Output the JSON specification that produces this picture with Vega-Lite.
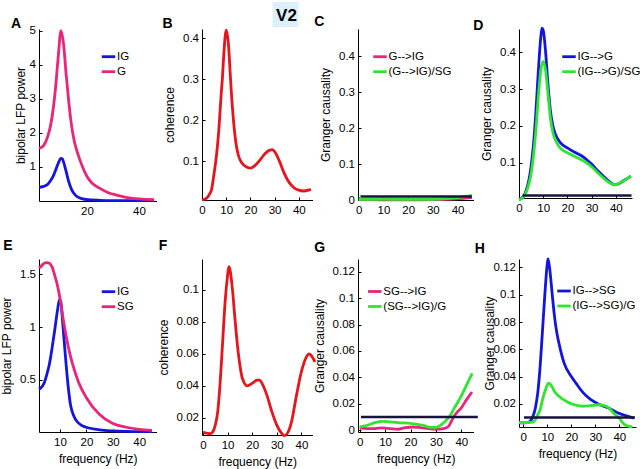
{
"$schema": "https://vega.github.io/schema/vega-lite/v6.json",
"autosize": {"type": "none"},
"padding": {"left": 39, "top": 29, "right": 601, "bottom": 440},
"background": "white",
"config": {
  "font": "Liberation Sans, Arial, sans-serif",
  "view": {"stroke": null},
  "axis": {"grid": false, "domainColor": "#000", "tickColor": "#000", "labelColor": "#000", "titleColor": "#000", "labelFontSize": 11.5, "titleFontSize": 12, "titleFontWeight": "normal", "tickSize": -3, "labelPadding": 7, "titlePadding": 6, "domainWidth": 1, "labelFlush": false, "labelOverlap": false},
  "axisY": {"labelPadding": 6.5},
  "legend": {"symbolType": "stroke", "symbolStrokeWidth": 3, "symbolSize": 182, "labelFontSize": 11.5, "labelColor": "#000", "labelOffset": 0, "rowPadding": -3, "padding": 0},
  "text": {"fontSize": 14, "fontWeight": "bold", "align": "left", "baseline": "alphabetic", "color": "#000"},
  "line": {"strokeWidth": 2.8, "interpolate": "monotone"}
},
"datasets": {
  "A": [
    {"freq":1.6,"value":0.4,"series":"IG"},{"freq":3,"value":0.42,"series":"IG"},{"freq":4,"value":0.45,"series":"IG"},{"freq":5,"value":0.5,"series":"IG"},{"freq":6,"value":0.6,"series":"IG"},{"freq":7,"value":0.73,"series":"IG"},{"freq":8,"value":0.92,"series":"IG"},{"freq":9,"value":1.12,"series":"IG"},{"freq":10,"value":1.25,"series":"IG"},{"freq":10.5,"value":1.24,"series":"IG"},{"freq":11,"value":1.14,"series":"IG"},{"freq":12,"value":0.86,"series":"IG"},{"freq":13,"value":0.56,"series":"IG"},{"freq":14,"value":0.35,"series":"IG"},{"freq":15,"value":0.22,"series":"IG"},{"freq":16,"value":0.14,"series":"IG"},{"freq":18,"value":0.07,"series":"IG"},{"freq":20,"value":0.04,"series":"IG"},{"freq":25,"value":0.02,"series":"IG"},{"freq":30,"value":0.013,"series":"IG"},{"freq":40,"value":0.01,"series":"IG"},{"freq":45.8,"value":0.01,"series":"IG"},
    {"freq":1.6,"value":1.55,"series":"G"},{"freq":3,"value":1.6,"series":"G"},{"freq":4,"value":1.72,"series":"G"},{"freq":5,"value":1.92,"series":"G"},{"freq":6,"value":2.22,"series":"G"},{"freq":7,"value":2.7,"series":"G"},{"freq":8,"value":3.4,"series":"G"},{"freq":9,"value":4.3,"series":"G"},{"freq":10,"value":5.0,"series":"G"},{"freq":11,"value":4.6,"series":"G"},{"freq":12,"value":3.7,"series":"G"},{"freq":13,"value":2.9,"series":"G"},{"freq":14,"value":2.25,"series":"G"},{"freq":15,"value":1.8,"series":"G"},{"freq":16,"value":1.5,"series":"G"},{"freq":17.3,"value":1.2,"series":"G"},{"freq":20,"value":0.72,"series":"G"},{"freq":22,"value":0.52,"series":"G"},{"freq":25,"value":0.37,"series":"G"},{"freq":28,"value":0.25,"series":"G"},{"freq":31,"value":0.18,"series":"G"},{"freq":35,"value":0.11,"series":"G"},{"freq":40,"value":0.06,"series":"G"},{"freq":45.8,"value":0.04,"series":"G"}
  ],
  "B": [
    {"freq":0,"value":0.005},{"freq":2,"value":0.01},{"freq":3,"value":0.018},{"freq":4,"value":0.032},{"freq":5,"value":0.07},{"freq":5.7,"value":0.1},{"freq":6,"value":0.115},{"freq":7,"value":0.18},{"freq":8,"value":0.27},{"freq":8.4,"value":0.3},{"freq":9,"value":0.36},{"freq":10,"value":0.42},{"freq":11,"value":0.38},{"freq":11.6,"value":0.32},{"freq":12,"value":0.28},{"freq":13,"value":0.2},{"freq":14,"value":0.145},{"freq":15,"value":0.115},{"freq":16,"value":0.1},{"freq":17,"value":0.092},{"freq":18,"value":0.087},{"freq":20,"value":0.083},{"freq":22,"value":0.09},{"freq":24,"value":0.103},{"freq":26,"value":0.118},{"freq":28,"value":0.127},{"freq":29,"value":0.128},{"freq":30,"value":0.123},{"freq":32,"value":0.1},{"freq":34,"value":0.07},{"freq":36,"value":0.048},{"freq":38,"value":0.035},{"freq":40,"value":0.029},{"freq":42,"value":0.027},{"freq":44,"value":0.029},{"freq":45,"value":0.031}
  ],
  "C": [
    {"freq":0,"value":0.001,"series":"G-->IG"},{"freq":5,"value":0.0008,"series":"G-->IG"},{"freq":10,"value":0.0005,"series":"G-->IG"},{"freq":15,"value":0.0005,"series":"G-->IG"},{"freq":20,"value":0.0005,"series":"G-->IG"},{"freq":25,"value":0.0007,"series":"G-->IG"},{"freq":30,"value":0.001,"series":"G-->IG"},{"freq":35,"value":0.0018,"series":"G-->IG"},{"freq":38,"value":0.0028,"series":"G-->IG"},{"freq":41,"value":0.004,"series":"G-->IG"},{"freq":43,"value":0.005,"series":"G-->IG"},{"freq":45.8,"value":0.0065,"series":"G-->IG"},
    {"freq":0,"value":0.002,"series":"(G-->IG)/SG"},{"freq":5,"value":0.002,"series":"(G-->IG)/SG"},{"freq":10,"value":0.0022,"series":"(G-->IG)/SG"},{"freq":15,"value":0.002,"series":"(G-->IG)/SG"},{"freq":20,"value":0.0018,"series":"(G-->IG)/SG"},{"freq":25,"value":0.0018,"series":"(G-->IG)/SG"},{"freq":30,"value":0.002,"series":"(G-->IG)/SG"},{"freq":34,"value":0.003,"series":"(G-->IG)/SG"},{"freq":37,"value":0.0045,"series":"(G-->IG)/SG"},{"freq":40,"value":0.0065,"series":"(G-->IG)/SG"},{"freq":43,"value":0.0095,"series":"(G-->IG)/SG"},{"freq":45.8,"value":0.013,"series":"(G-->IG)/SG"}
  ],
  "Cthr": [{"freq":0.7,"value":0.01},{"freq":45.8,"value":0.01}],
  "D": [
    {"freq":0,"value":0,"series":"IG-->G"},{"freq":1,"value":0.003,"series":"IG-->G"},{"freq":2,"value":0.01,"series":"IG-->G"},{"freq":3,"value":0.025,"series":"IG-->G"},{"freq":4,"value":0.05,"series":"IG-->G"},{"freq":5,"value":0.09,"series":"IG-->G"},{"freq":6,"value":0.15,"series":"IG-->G"},{"freq":7,"value":0.24,"series":"IG-->G"},{"freq":8,"value":0.35,"series":"IG-->G"},{"freq":9,"value":0.44,"series":"IG-->G"},{"freq":9.5,"value":0.465,"series":"IG-->G"},{"freq":10,"value":0.46,"series":"IG-->G"},{"freq":11,"value":0.4,"series":"IG-->G"},{"freq":12,"value":0.31,"series":"IG-->G"},{"freq":13,"value":0.24,"series":"IG-->G"},{"freq":14,"value":0.2,"series":"IG-->G"},{"freq":15,"value":0.178,"series":"IG-->G"},{"freq":17,"value":0.155,"series":"IG-->G"},{"freq":20,"value":0.14,"series":"IG-->G"},{"freq":23,"value":0.128,"series":"IG-->G"},{"freq":26,"value":0.118,"series":"IG-->G"},{"freq":28,"value":0.108,"series":"IG-->G"},{"freq":30,"value":0.096,"series":"IG-->G"},{"freq":33,"value":0.075,"series":"IG-->G"},{"freq":36,"value":0.056,"series":"IG-->G"},{"freq":38,"value":0.045,"series":"IG-->G"},{"freq":39.5,"value":0.04,"series":"IG-->G"},{"freq":41,"value":0.042,"series":"IG-->G"},{"freq":43,"value":0.05,"series":"IG-->G"},{"freq":45,"value":0.058,"series":"IG-->G"},{"freq":46.2,"value":0.063,"series":"IG-->G"},
    {"freq":0,"value":0,"series":"(IG-->G)/SG"},{"freq":1,"value":0.002,"series":"(IG-->G)/SG"},{"freq":2,"value":0.008,"series":"(IG-->G)/SG"},{"freq":3,"value":0.02,"series":"(IG-->G)/SG"},{"freq":4,"value":0.04,"series":"(IG-->G)/SG"},{"freq":5,"value":0.07,"series":"(IG-->G)/SG"},{"freq":6,"value":0.12,"series":"(IG-->G)/SG"},{"freq":7,"value":0.19,"series":"(IG-->G)/SG"},{"freq":8,"value":0.28,"series":"(IG-->G)/SG"},{"freq":9,"value":0.35,"series":"(IG-->G)/SG"},{"freq":10,"value":0.375,"series":"(IG-->G)/SG"},{"freq":11,"value":0.35,"series":"(IG-->G)/SG"},{"freq":12,"value":0.285,"series":"(IG-->G)/SG"},{"freq":13,"value":0.22,"series":"(IG-->G)/SG"},{"freq":14,"value":0.182,"series":"(IG-->G)/SG"},{"freq":15,"value":0.162,"series":"(IG-->G)/SG"},{"freq":17,"value":0.14,"series":"(IG-->G)/SG"},{"freq":20,"value":0.127,"series":"(IG-->G)/SG"},{"freq":23,"value":0.117,"series":"(IG-->G)/SG"},{"freq":26,"value":0.107,"series":"(IG-->G)/SG"},{"freq":28,"value":0.099,"series":"(IG-->G)/SG"},{"freq":30,"value":0.089,"series":"(IG-->G)/SG"},{"freq":33,"value":0.07,"series":"(IG-->G)/SG"},{"freq":36,"value":0.052,"series":"(IG-->G)/SG"},{"freq":38,"value":0.043,"series":"(IG-->G)/SG"},{"freq":39.5,"value":0.04,"series":"(IG-->G)/SG"},{"freq":41,"value":0.043,"series":"(IG-->G)/SG"},{"freq":43,"value":0.05,"series":"(IG-->G)/SG"},{"freq":45,"value":0.058,"series":"(IG-->G)/SG"},{"freq":46.2,"value":0.064,"series":"(IG-->G)/SG"}
  ],
  "Dthr": [{"freq":1.5,"value":0.011},{"freq":46.5,"value":0.011}],
  "E": [
    {"freq":2.05,"value":0.41,"series":"IG"},{"freq":3,"value":0.43,"series":"IG"},{"freq":4,"value":0.47,"series":"IG"},{"freq":5,"value":0.55,"series":"IG"},{"freq":6,"value":0.65,"series":"IG"},{"freq":7,"value":0.8,"series":"IG"},{"freq":8,"value":0.97,"series":"IG"},{"freq":9,"value":1.15,"series":"IG"},{"freq":9.8,"value":1.26,"series":"IG"},{"freq":10.3,"value":1.24,"series":"IG"},{"freq":11,"value":1.05,"series":"IG"},{"freq":12,"value":0.74,"series":"IG"},{"freq":13,"value":0.46,"series":"IG"},{"freq":14,"value":0.26,"series":"IG"},{"freq":15,"value":0.17,"series":"IG"},{"freq":16,"value":0.12,"series":"IG"},{"freq":18,"value":0.07,"series":"IG"},{"freq":20,"value":0.05,"series":"IG"},{"freq":25,"value":0.025,"series":"IG"},{"freq":30,"value":0.015,"series":"IG"},{"freq":35,"value":0.01,"series":"IG"},{"freq":40,"value":0.008,"series":"IG"},{"freq":44.85,"value":0.008,"series":"IG"},
    {"freq":2.05,"value":1.56,"series":"SG"},{"freq":3,"value":1.58,"series":"SG"},{"freq":4,"value":1.605,"series":"SG"},{"freq":5,"value":1.61,"series":"SG"},{"freq":6,"value":1.605,"series":"SG"},{"freq":7,"value":1.57,"series":"SG"},{"freq":8,"value":1.49,"series":"SG"},{"freq":9,"value":1.4,"series":"SG"},{"freq":10,"value":1.27,"series":"SG"},{"freq":11,"value":1.11,"series":"SG"},{"freq":12,"value":0.96,"series":"SG"},{"freq":13,"value":0.83,"series":"SG"},{"freq":14,"value":0.72,"series":"SG"},{"freq":15,"value":0.63,"series":"SG"},{"freq":17,"value":0.48,"series":"SG"},{"freq":20,"value":0.33,"series":"SG"},{"freq":25,"value":0.17,"series":"SG"},{"freq":30,"value":0.085,"series":"SG"},{"freq":35,"value":0.05,"series":"SG"},{"freq":40,"value":0.03,"series":"SG"},{"freq":44.85,"value":0.02,"series":"SG"}
  ],
  "F": [
    {"freq":0,"value":0.0108},{"freq":1,"value":0.0105},{"freq":2,"value":0.0102},{"freq":3,"value":0.01},{"freq":4,"value":0.0112},{"freq":5,"value":0.0154},{"freq":6,"value":0.0238},{"freq":7,"value":0.0426},{"freq":8,"value":0.0676},{"freq":9,"value":0.0927},{"freq":10,"value":0.109},{"freq":10.5,"value":0.1146},{"freq":11,"value":0.1125},{"freq":12,"value":0.1},{"freq":13,"value":0.082},{"freq":14,"value":0.0655},{"freq":15,"value":0.053},{"freq":16,"value":0.0447},{"freq":18,"value":0.04},{"freq":20,"value":0.0415},{"freq":22,"value":0.0436},{"freq":23,"value":0.0436},{"freq":24,"value":0.0415},{"freq":26,"value":0.034},{"freq":28,"value":0.0238},{"freq":30,"value":0.0154},{"freq":32,"value":0.0102},{"freq":33,"value":0.0088},{"freq":34,"value":0.0096},{"freq":36,"value":0.0175},{"freq":38,"value":0.034},{"freq":40,"value":0.0488},{"freq":42,"value":0.058},{"freq":43,"value":0.06},{"freq":44,"value":0.059},{"freq":45.5,"value":0.055}
  ],
  "G": [
    {"freq":0,"value":0.0018,"series":"SG-->IG"},{"freq":3,"value":0.0013,"series":"SG-->IG"},{"freq":6,"value":0.0013,"series":"SG-->IG"},{"freq":9,"value":0.0018,"series":"SG-->IG"},{"freq":12,"value":0.0013,"series":"SG-->IG"},{"freq":15,"value":0.0008,"series":"SG-->IG"},{"freq":18,"value":0.002,"series":"SG-->IG"},{"freq":21,"value":0.0025,"series":"SG-->IG"},{"freq":24,"value":0.002,"series":"SG-->IG"},{"freq":27,"value":0.0013,"series":"SG-->IG"},{"freq":30,"value":0.0008,"series":"SG-->IG"},{"freq":33,"value":0.0013,"series":"SG-->IG"},{"freq":35,"value":0.003,"series":"SG-->IG"},{"freq":36,"value":0.0065,"series":"SG-->IG"},{"freq":37.1,"value":0.0105,"series":"SG-->IG"},{"freq":38.5,"value":0.014,"series":"SG-->IG"},{"freq":40,"value":0.017,"series":"SG-->IG"},{"freq":42,"value":0.023,"series":"SG-->IG"},{"freq":44.2,"value":0.029,"series":"SG-->IG"},
    {"freq":0,"value":0.0025,"series":"(SG-->IG)/G"},{"freq":3,"value":0.0038,"series":"(SG-->IG)/G"},{"freq":6,"value":0.0058,"series":"(SG-->IG)/G"},{"freq":9,"value":0.0068,"series":"(SG-->IG)/G"},{"freq":12,"value":0.0063,"series":"(SG-->IG)/G"},{"freq":15,"value":0.0058,"series":"(SG-->IG)/G"},{"freq":20,"value":0.0053,"series":"(SG-->IG)/G"},{"freq":25,"value":0.0038,"series":"(SG-->IG)/G"},{"freq":28,"value":0.0022,"series":"(SG-->IG)/G"},{"freq":30,"value":0.0022,"series":"(SG-->IG)/G"},{"freq":32,"value":0.004,"series":"(SG-->IG)/G"},{"freq":34,"value":0.0075,"series":"(SG-->IG)/G"},{"freq":35.4,"value":0.0105,"series":"(SG-->IG)/G"},{"freq":37,"value":0.016,"series":"(SG-->IG)/G"},{"freq":40,"value":0.026,"series":"(SG-->IG)/G"},{"freq":42,"value":0.034,"series":"(SG-->IG)/G"},{"freq":44.3,"value":0.043,"series":"(SG-->IG)/G"}
  ],
  "Gthr": [{"freq":0.5,"value":0.01},{"freq":46.5,"value":0.01}],
  "H": [
    {"freq":-1.8,"value":0.006,"series":"IG-->SG"},{"freq":2,"value":0.0063,"series":"IG-->SG"},{"freq":3,"value":0.0075,"series":"IG-->SG"},{"freq":4,"value":0.0107,"series":"IG-->SG"},{"freq":5,"value":0.0168,"series":"IG-->SG"},{"freq":6,"value":0.0278,"series":"IG-->SG"},{"freq":7,"value":0.0473,"series":"IG-->SG"},{"freq":8,"value":0.074,"series":"IG-->SG"},{"freq":9,"value":0.101,"series":"IG-->SG"},{"freq":10,"value":0.123,"series":"IG-->SG"},{"freq":10.3,"value":0.1262,"series":"IG-->SG"},{"freq":11,"value":0.119,"series":"IG-->SG"},{"freq":12,"value":0.101,"series":"IG-->SG"},{"freq":13,"value":0.084,"series":"IG-->SG"},{"freq":14,"value":0.0717,"series":"IG-->SG"},{"freq":15,"value":0.0632,"series":"IG-->SG"},{"freq":17,"value":0.0498,"series":"IG-->SG"},{"freq":20,"value":0.04,"series":"IG-->SG"},{"freq":22,"value":0.035,"series":"IG-->SG"},{"freq":25,"value":0.028,"series":"IG-->SG"},{"freq":28,"value":0.0232,"series":"IG-->SG"},{"freq":31.5,"value":0.0197,"series":"IG-->SG"},{"freq":35.7,"value":0.0168,"series":"IG-->SG"},{"freq":39.9,"value":0.013,"series":"IG-->SG"},{"freq":44,"value":0.0107,"series":"IG-->SG"},{"freq":46.1,"value":0.0095,"series":"IG-->SG"},
    {"freq":-1.8,"value":0.0063,"series":"(IG-->SG)/G"},{"freq":2,"value":0.0063,"series":"(IG-->SG)/G"},{"freq":4,"value":0.0066,"series":"(IG-->SG)/G"},{"freq":5,"value":0.0083,"series":"(IG-->SG)/G"},{"freq":6,"value":0.012,"series":"(IG-->SG)/G"},{"freq":7,"value":0.0156,"series":"(IG-->SG)/G"},{"freq":8,"value":0.023,"series":"(IG-->SG)/G"},{"freq":9,"value":0.029,"series":"(IG-->SG)/G"},{"freq":10,"value":0.0339,"series":"(IG-->SG)/G"},{"freq":10.6,"value":0.0351,"series":"(IG-->SG)/G"},{"freq":11.5,"value":0.0339,"series":"(IG-->SG)/G"},{"freq":13,"value":0.029,"series":"(IG-->SG)/G"},{"freq":15,"value":0.0254,"series":"(IG-->SG)/G"},{"freq":18,"value":0.0217,"series":"(IG-->SG)/G"},{"freq":21,"value":0.0195,"series":"(IG-->SG)/G"},{"freq":25,"value":0.0182,"series":"(IG-->SG)/G"},{"freq":28,"value":0.0187,"series":"(IG-->SG)/G"},{"freq":31.5,"value":0.0193,"series":"(IG-->SG)/G"},{"freq":33,"value":0.019,"series":"(IG-->SG)/G"},{"freq":35.7,"value":0.0169,"series":"(IG-->SG)/G"},{"freq":38,"value":0.0125,"series":"(IG-->SG)/G"},{"freq":40,"value":0.0095,"series":"(IG-->SG)/G"},{"freq":42,"value":0.005,"series":"(IG-->SG)/G"},{"freq":44,"value":0.0035,"series":"(IG-->SG)/G"},{"freq":45.4,"value":0.003,"series":"(IG-->SG)/G"}
  ],
  "Hthr": [{"freq":0.3,"value":0.01},{"freq":46.5,"value":0.01}]
},
"columns": 4,
"align": "none",
"bounds": "flush",
"spacing": {"row": 58, "column": 45},
"resolve": {"scale": {"x": "independent", "y": "independent", "color": "independent"}, "axis": {"x": "independent", "y": "independent"}, "legend": {"color": "independent"}},
"concat": [
  {
    "width": 117.5, "height": 172,
    "layer": [
      {
        "data": {"name": "A"},
        "mark": {"type": "line"},
        "encoding": {
          "x": {"field": "freq", "type": "quantitative", "scale": {"domain": [1.54, 46.73], "nice": false, "zero": false}, "axis": {"values": [20, 40], "title": null, "labelOverlap": false}},
          "y": {"field": "value", "type": "quantitative", "scale": {"domain": [0, 5.05], "nice": false, "zero": false}, "axis": {"values": [1, 2, 3, 4, 5], "format": "~g", "title": "bipolar LFP power", "titlePadding": 2, "labelOverlap": false}},
          "color": {"field": "series", "type": "nominal", "scale": {"domain": ["IG", "G"], "range": ["#1414e0", "#ea2579"]}, "legend": {"orient": "none", "legendX": 61, "legendY": 19.2, "title": null}}
        }
      },
      {
        "data": {"values": [{}]},
        "mark": {"type": "text", "text": "A"},
        "encoding": {
          "x": {"datum": -9.23, "type": "quantitative", "scale": {"domain": [1.54, 46.73], "nice": false, "zero": false}, "axis": {"values": [20, 40], "title": null, "labelOverlap": false}},
          "y": {"datum": 5.079, "type": "quantitative", "scale": {"domain": [0, 5.05], "nice": false, "zero": false}, "axis": {"values": [1, 2, 3, 4, 5], "format": "~g", "title": "bipolar LFP power", "titlePadding": 2, "labelOverlap": false}}
        }
      }
    ]
  },
  {
    "width": 110.5, "height": 171,
    "layer": [
      {
        "data": {"name": "B"},
        "mark": {"type": "line", "color": "#e8141c"},
        "encoding": {
          "x": {"field": "freq", "type": "quantitative", "scale": {"domain": [0, 45.66], "nice": false, "zero": false}, "axis": {"values": [0, 10, 20, 30, 40], "title": null, "labelOverlap": false}},
          "y": {"field": "value", "type": "quantitative", "scale": {"domain": [0.005, 0.423], "nice": false, "zero": false}, "axis": {"values": [0.1, 0.2, 0.3, 0.4], "format": "~g", "title": "coherence", "labelOverlap": false}}
        }
      },
      {
        "data": {"values": [{}]},
        "mark": {"type": "rect", "color": "#ddeffb"},
        "encoding": {
          "x": {"datum": 29.13, "type": "quantitative", "scale": {"domain": [0, 45.66], "nice": false, "zero": false}, "axis": {"values": [0, 10, 20, 30, 40], "title": null, "labelOverlap": false}}, "x2": {"datum": 39.88},
          "y": {"datum": 0.428, "type": "quantitative", "scale": {"domain": [0.005, 0.423], "nice": false, "zero": false}, "axis": {"values": [0.1, 0.2, 0.3, 0.4], "format": "~g", "title": "coherence", "labelOverlap": false}}, "y2": {"datum": 0.489}
        }
      },
      {
        "data": {"values": [{}]},
        "mark": {"type": "text", "text": "V2", "fontSize": 17, "align": "center", "baseline": "middle"},
        "encoding": {
          "x": {"datum": 34.92, "type": "quantitative", "scale": {"domain": [0, 45.66], "nice": false, "zero": false}, "axis": {"values": [0, 10, 20, 30, 40], "title": null, "labelOverlap": false}},
          "y": {"datum": 0.456, "type": "quantitative", "scale": {"domain": [0.005, 0.423], "nice": false, "zero": false}, "axis": {"values": [0.1, 0.2, 0.3, 0.4], "format": "~g", "title": "coherence", "labelOverlap": false}}
        }
      },
      {
        "data": {"values": [{}]},
        "mark": {"type": "text", "text": "B"},
        "encoding": {
          "x": {"datum": -16.32, "type": "quantitative", "scale": {"domain": [0, 45.66], "nice": false, "zero": false}, "axis": {"values": [0, 10, 20, 30, 40], "title": null, "labelOverlap": false}},
          "y": {"datum": 0.4247, "type": "quantitative", "scale": {"domain": [0.005, 0.423], "nice": false, "zero": false}, "axis": {"values": [0.1, 0.2, 0.3, 0.4], "format": "~g", "title": "coherence", "labelOverlap": false}}
        }
      }
    ]
  },
  {
    "width": 115.5, "height": 171,
    "layer": [
      {
        "data": {"name": "C"},
        "mark": {"type": "line"},
        "encoding": {
          "x": {"field": "freq", "type": "quantitative", "scale": {"domain": [-0.3, 46.46], "nice": false, "zero": false}, "axis": {"values": [0, 10, 20, 30, 40], "title": null, "labelOverlap": false}},
          "y": {"field": "value", "type": "quantitative", "scale": {"domain": [0, 0.475], "nice": false, "zero": false}, "axis": {"values": [0, 0.1, 0.2, 0.3, 0.4], "format": "~g", "title": "Granger causality", "labelOverlap": false}},
          "color": {"field": "series", "type": "nominal", "scale": {"domain": ["G-->IG", "(G-->IG)/SG"], "range": ["#ea2579", "#2ee62e"]}, "legend": {"orient": "none", "legendX": 13.5, "legendY": 19.2, "title": null}}
        }
      },
      {
        "data": {"name": "Cthr"},
        "mark": {"type": "line", "color": "#14143c", "strokeWidth": 2.5, "interpolate": "linear"},
        "encoding": {
          "x": {"field": "freq", "type": "quantitative", "scale": {"domain": [-0.3, 46.46], "nice": false, "zero": false}, "axis": {"values": [0, 10, 20, 30, 40], "title": null, "labelOverlap": false}},
          "y": {"field": "value", "type": "quantitative", "scale": {"domain": [0, 0.475], "nice": false, "zero": false}, "axis": {"values": [0, 0.1, 0.2, 0.3, 0.4], "format": "~g", "title": "Granger causality", "labelOverlap": false}}
        }
      },
      {
        "data": {"values": [{}]},
        "mark": {"type": "text", "text": "C"},
        "encoding": {
          "x": {"datum": -17.99, "type": "quantitative", "scale": {"domain": [-0.3, 46.46], "nice": false, "zero": false}, "axis": {"values": [0, 10, 20, 30, 40], "title": null, "labelOverlap": false}},
          "y": {"datum": 0.4833, "type": "quantitative", "scale": {"domain": [0, 0.475], "nice": false, "zero": false}, "axis": {"values": [0, 0.1, 0.2, 0.3, 0.4], "format": "~g", "title": "Granger causality", "labelOverlap": false}}
        }
      }
    ]
  },
  {
    "width": 113, "height": 169,
    "layer": [
      {
        "data": {"name": "D"},
        "mark": {"type": "line"},
        "encoding": {
          "x": {"field": "freq", "type": "quantitative", "scale": {"domain": [0, 46.7], "nice": false, "zero": false}, "axis": {"values": [0, 10, 20, 30, 40], "title": null, "labelOverlap": false}},
          "y": {"field": "value", "type": "quantitative", "scale": {"domain": [0.004, 0.463], "nice": false, "zero": false}, "axis": {"values": [0.1, 0.2, 0.3, 0.4], "format": "~g", "title": "Granger causality", "labelOverlap": false}},
          "color": {"field": "series", "type": "nominal", "scale": {"domain": ["IG-->G", "(IG-->G)/SG"], "range": ["#1414e0", "#2ee62e"]}, "legend": {"orient": "none", "legendX": 41.5, "legendY": 19.2, "title": null}}
        }
      },
      {
        "data": {"name": "Dthr"},
        "mark": {"type": "line", "color": "#14143c", "strokeWidth": 2.5, "interpolate": "linear"},
        "encoding": {
          "x": {"field": "freq", "type": "quantitative", "scale": {"domain": [0, 46.7], "nice": false, "zero": false}, "axis": {"values": [0, 10, 20, 30, 40], "title": null, "labelOverlap": false}},
          "y": {"field": "value", "type": "quantitative", "scale": {"domain": [0.004, 0.463], "nice": false, "zero": false}, "axis": {"values": [0.1, 0.2, 0.3, 0.4], "format": "~g", "title": "Granger causality", "labelOverlap": false}}
        }
      },
      {
        "data": {"values": [{}]},
        "mark": {"type": "text", "text": "D"},
        "encoding": {
          "x": {"datum": -18.93, "type": "quantitative", "scale": {"domain": [0, 46.7], "nice": false, "zero": false}, "axis": {"values": [0, 10, 20, 30, 40], "title": null, "labelOverlap": false}},
          "y": {"datum": 0.4603, "type": "quantitative", "scale": {"domain": [0.004, 0.463], "nice": false, "zero": false}, "axis": {"values": [0.1, 0.2, 0.3, 0.4], "format": "~g", "title": "Granger causality", "labelOverlap": false}}
        }
      }
    ]
  },
  {
    "width": 117.5, "height": 173,
    "layer": [
      {
        "data": {"name": "E"},
        "mark": {"type": "line"},
        "encoding": {
          "x": {"field": "freq", "type": "quantitative", "scale": {"domain": [2.05, 46.56], "nice": false, "zero": false}, "axis": {"values": [10, 20, 30, 40], "title": "frequency (Hz)", "labelOverlap": false}},
          "y": {"field": "value", "type": "quantitative", "scale": {"domain": [0.005, 1.645], "nice": false, "zero": false}, "axis": {"values": [0.5, 1, 1.5], "format": "~g", "title": "bipolar LFP power", "labelOverlap": false}},
          "color": {"field": "series", "type": "nominal", "scale": {"domain": ["IG", "SG"], "range": ["#1414e0", "#ea2579"]}, "legend": {"orient": "none", "legendX": 61, "legendY": 24.2, "title": null}}
        }
      },
      {
        "data": {"values": [{}]},
        "mark": {"type": "text", "text": "E"},
        "encoding": {
          "x": {"datum": -11.47, "type": "quantitative", "scale": {"domain": [2.05, 46.56], "nice": false, "zero": false}, "axis": {"values": [10, 20, 30, 40], "title": "frequency (Hz)", "labelOverlap": false}},
          "y": {"datum": 1.73, "type": "quantitative", "scale": {"domain": [0.005, 1.645], "nice": false, "zero": false}, "axis": {"values": [0.5, 1, 1.5], "format": "~g", "title": "bipolar LFP power", "labelOverlap": false}}
        }
      }
    ]
  },
  {
    "width": 110.5, "height": 176,
    "layer": [
      {
        "data": {"name": "F"},
        "mark": {"type": "line", "color": "#e8141c"},
        "encoding": {
          "x": {"field": "freq", "type": "quantitative", "scale": {"domain": [-0.4, 44.52], "nice": false, "zero": false}, "axis": {"values": [0, 10, 20, 30, 40], "title": "frequency (Hz)", "labelOverlap": false}},
          "y": {"field": "value", "type": "quantitative", "scale": {"domain": [0.0092, 0.1194], "nice": false, "zero": false}, "axis": {"values": [0.02, 0.04, 0.06, 0.08, 0.1], "format": "~g", "title": "coherence", "labelOverlap": false}}
        }
      },
      {
        "data": {"values": [{}]},
        "mark": {"type": "text", "text": "F"},
        "encoding": {
          "x": {"datum": -17.96, "type": "quantitative", "scale": {"domain": [-0.4, 44.52], "nice": false, "zero": false}, "axis": {"values": [0, 10, 20, 30, 40], "title": "frequency (Hz)", "labelOverlap": false}},
          "y": {"datum": 0.125, "type": "quantitative", "scale": {"domain": [0.0092, 0.1194], "nice": false, "zero": false}, "axis": {"values": [0.02, 0.04, 0.06, 0.08, 0.1], "format": "~g", "title": "coherence", "labelOverlap": false}}
        }
      }
    ]
  },
  {
    "width": 115.5, "height": 173,
    "layer": [
      {
        "data": {"name": "G"},
        "mark": {"type": "line"},
        "encoding": {
          "x": {"field": "freq", "type": "quantitative", "scale": {"domain": [-0.67, 44.8], "nice": false, "zero": false}, "axis": {"values": [0, 10, 20, 30, 40], "title": "frequency (Hz)", "labelOverlap": false}},
          "y": {"field": "value", "type": "quantitative", "scale": {"domain": [-0.0013, 0.1296], "nice": false, "zero": false}, "axis": {"values": [0, 0.02, 0.04, 0.06, 0.08, 0.1, 0.12], "format": "~g", "title": "Granger causality", "labelOverlap": false}},
          "color": {"field": "series", "type": "nominal", "scale": {"domain": ["SG-->IG", "(SG-->IG)/G"], "range": ["#ea2579", "#2ee62e"]}, "legend": {"orient": "none", "legendX": 8.3, "legendY": 24, "title": null}}
        }
      },
      {
        "data": {"name": "Gthr"},
        "mark": {"type": "line", "color": "#14143c", "strokeWidth": 2.5, "interpolate": "linear"},
        "encoding": {
          "x": {"field": "freq", "type": "quantitative", "scale": {"domain": [-0.67, 44.8], "nice": false, "zero": false}, "axis": {"values": [0, 10, 20, 30, 40], "title": "frequency (Hz)", "labelOverlap": false}},
          "y": {"field": "value", "type": "quantitative", "scale": {"domain": [-0.0013, 0.1296], "nice": false, "zero": false}, "axis": {"values": [0, 0.02, 0.04, 0.06, 0.08, 0.1, 0.12], "format": "~g", "title": "Granger causality", "labelOverlap": false}}
        }
      },
      {
        "data": {"values": [{}]},
        "mark": {"type": "text", "text": "G"},
        "encoding": {
          "x": {"datum": -17.87, "type": "quantitative", "scale": {"domain": [-0.67, 44.8], "nice": false, "zero": false}, "axis": {"values": [0, 10, 20, 30, 40], "title": "frequency (Hz)", "labelOverlap": false}},
          "y": {"datum": 0.1351, "type": "quantitative", "scale": {"domain": [-0.0013, 0.1296], "nice": false, "zero": false}, "axis": {"values": [0, 0.02, 0.04, 0.06, 0.08, 0.1, 0.12], "format": "~g", "title": "Granger causality", "labelOverlap": false}}
        }
      }
    ]
  },
  {
    "width": 117, "height": 168,
    "layer": [
      {
        "data": {"name": "H"},
        "mark": {"type": "line"},
        "encoding": {
          "x": {"field": "freq", "type": "quantitative", "scale": {"domain": [-1.8, 46.95], "nice": false, "zero": false}, "axis": {"values": [0, 10, 20, 30, 40], "title": "frequency (Hz)", "labelOverlap": false}},
          "y": {"field": "value", "type": "quantitative", "scale": {"domain": [0.003, 0.1262], "nice": false, "zero": false}, "axis": {"values": [0.02, 0.04, 0.06, 0.08, 0.1, 0.12], "format": "~g", "title": "Granger causality", "titlePadding": -3, "labelOverlap": false}},
          "color": {"field": "series", "type": "nominal", "scale": {"domain": ["IG-->SG", "(IG-->SG)/G"], "range": ["#1414e0", "#2ee62e"]}, "legend": {"orient": "none", "legendX": 36.5, "legendY": 23.5, "title": null}}
        }
      },
      {
        "data": {"name": "Hthr"},
        "mark": {"type": "line", "color": "#14143c", "strokeWidth": 2.5, "interpolate": "linear"},
        "encoding": {
          "x": {"field": "freq", "type": "quantitative", "scale": {"domain": [-1.8, 46.95], "nice": false, "zero": false}, "axis": {"values": [0, 10, 20, 30, 40], "title": "frequency (Hz)", "labelOverlap": false}},
          "y": {"field": "value", "type": "quantitative", "scale": {"domain": [0.003, 0.1262], "nice": false, "zero": false}, "axis": {"values": [0.02, 0.04, 0.06, 0.08, 0.1, 0.12], "format": "~g", "title": "Granger causality", "titlePadding": -3, "labelOverlap": false}}
        }
      },
      {
        "data": {"values": [{}]},
        "mark": {"type": "text", "text": "H"},
        "encoding": {
          "x": {"datum": -20.22, "type": "quantitative", "scale": {"domain": [-1.8, 46.95], "nice": false, "zero": false}, "axis": {"values": [0, 10, 20, 30, 40], "title": "frequency (Hz)", "labelOverlap": false}},
          "y": {"datum": 0.1304, "type": "quantitative", "scale": {"domain": [0.003, 0.1262], "nice": false, "zero": false}, "axis": {"values": [0.02, 0.04, 0.06, 0.08, 0.1, 0.12], "format": "~g", "title": "Granger causality", "titlePadding": -3, "labelOverlap": false}}
        }
      }
    ]
  }
]
}
